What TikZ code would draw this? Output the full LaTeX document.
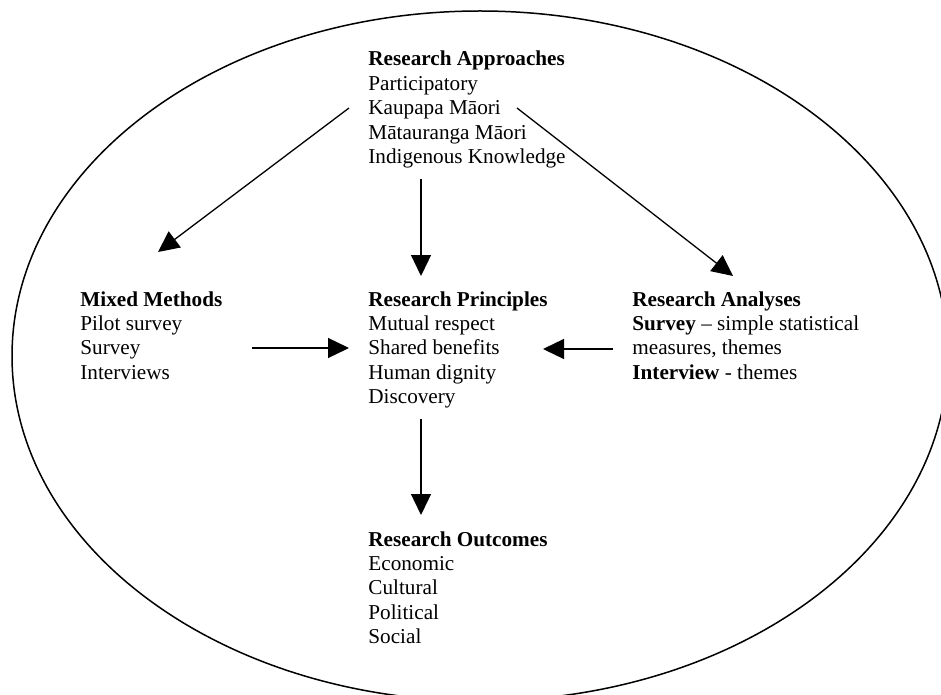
\documentclass[tikz,border=0pt]{standalone}
\usepackage{fontspec}
\setmainfont{Liberation Serif}
\usetikzlibrary{arrows.meta}
\tikzset{
  block/.style={anchor=base west, inner sep=0pt, align=left, font=\fontsize{10.6}{12.2}\selectfont},
  arr/.style={line width=0.65pt, -{Triangle[length=10.5pt,width=10pt]}},
  rim/.style={line width=0.75pt}
}
\begin{document}
\begin{tikzpicture}[x=0.5pt,y=-0.5pt]
\useasboundingbox (0,0) rectangle (941,695);
\clip (0,0) rectangle (941,695);
\draw[rim] (480,356) ellipse [x radius=468, y radius=345];

% base anchor = baseline of the last line
\node[block] (ra) at (368,163.6) {\textbf{Research Approaches}\\Participatory\\Kaupapa Māori\\Mātauranga Māori\\Indigenous Knowledge};
\node[block] (mm) at (80,379.2) {\textbf{Mixed Methods}\\Pilot survey\\Survey\\Interviews};
\node[block] (rp) at (368,403.6) {\textbf{Research Principles}\\Mutual respect\\Shared benefits\\Human dignity\\Discovery};
\node[block] (ran) at (632,379.2) {\textbf{Research Analyses}\\\textbf{Survey} – simple statistical\\measures, themes\\\textbf{Interview} - themes};
\node[block] (ro) at (368,643.6) {\textbf{Research Outcomes}\\Economic\\Cultural\\Political\\Social};

\coordinate (raL) at (349,108);
\coordinate (raR) at (517,108);
\coordinate (raB) at (421,179);
\coordinate (mmT) at (158,252);
\coordinate (ranT) at (733,276);
\coordinate (rpT) at (421,276);
\coordinate (mmR) at (252,348);
\coordinate (rpL) at (349,348);
\coordinate (ranL) at (613,349);
\coordinate (rpR) at (543,349);
\coordinate (rpB) at (421,419);
\coordinate (roT) at (421,515);

\draw[arr] (raL) -- (mmT);
\draw[arr] (raR) -- (ranT);
\draw[arr] (raB) -- (rpT);
\draw[arr] (mmR) -- (rpL);
\draw[arr] (ranL) -- (rpR);
\draw[arr] (rpB) -- (roT);
\end{tikzpicture}
\end{document}
